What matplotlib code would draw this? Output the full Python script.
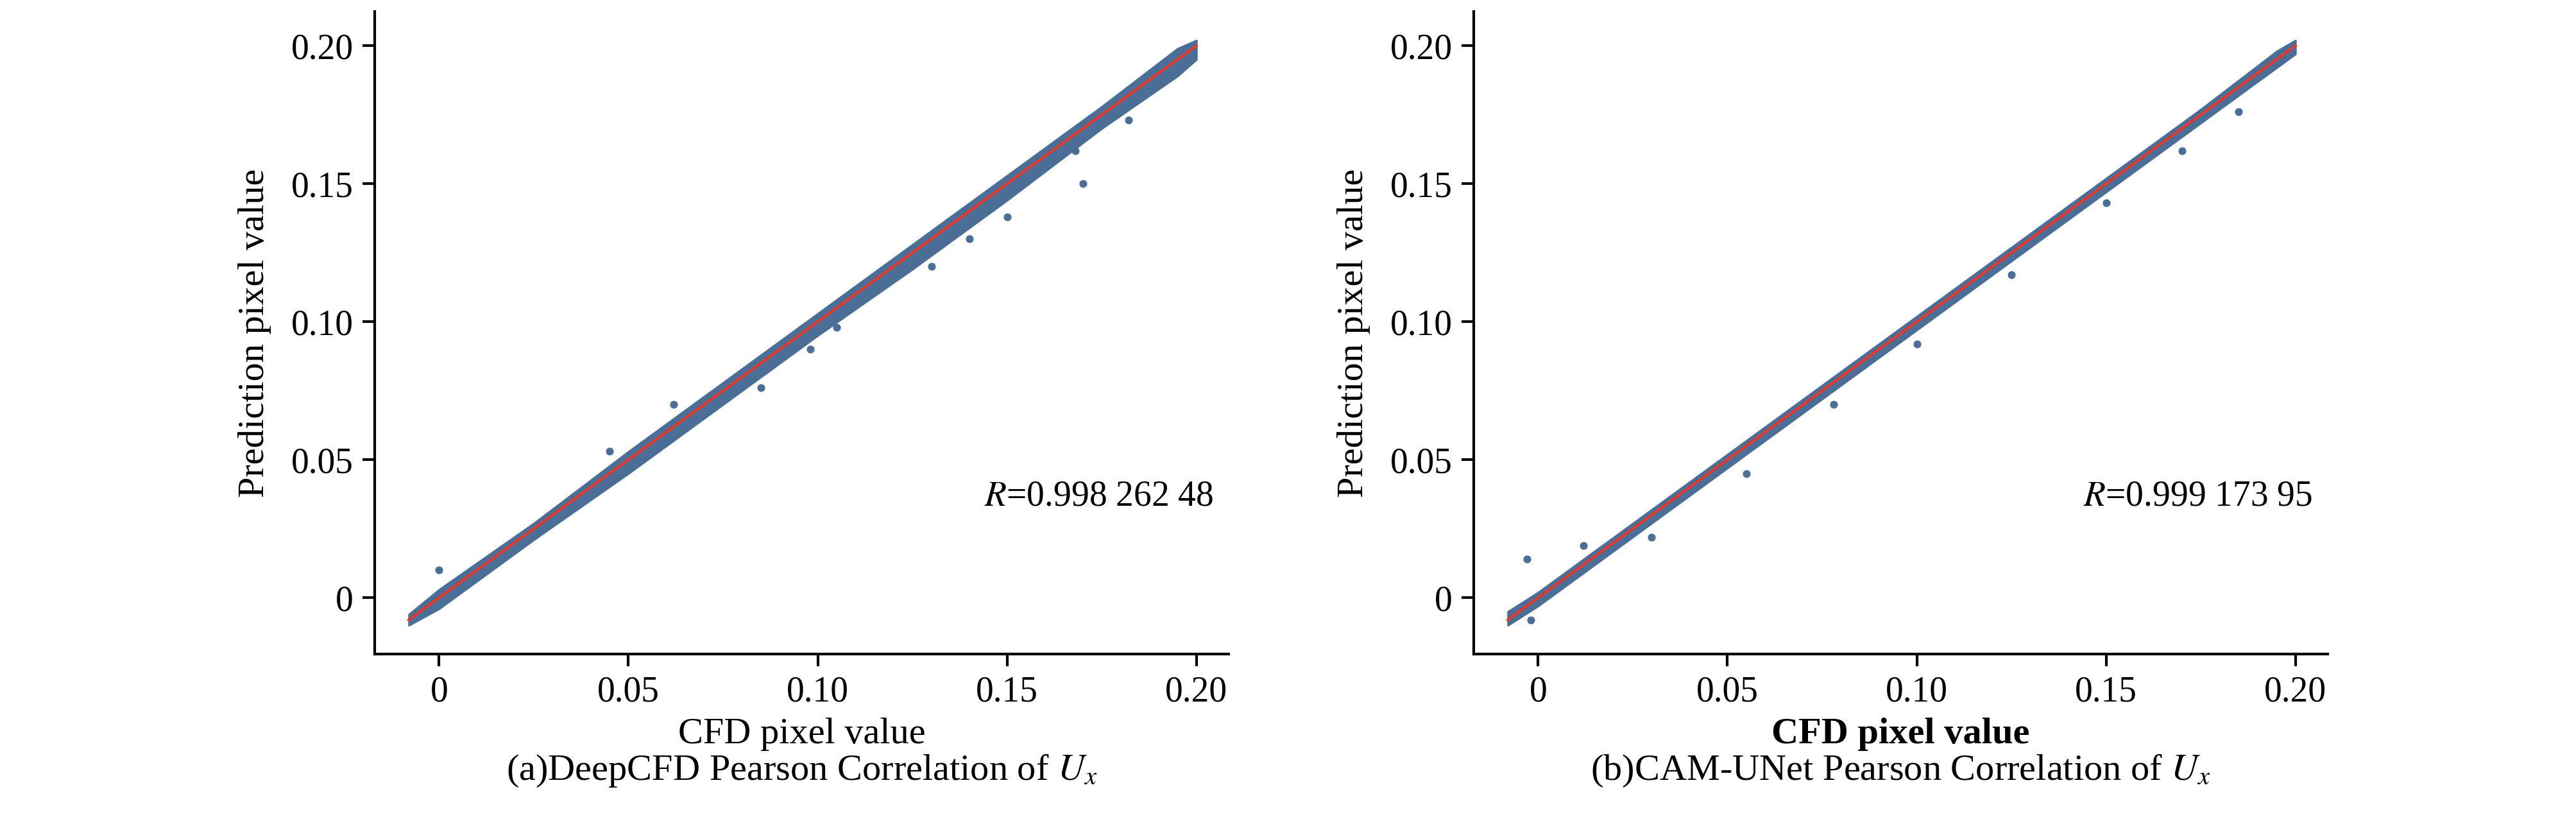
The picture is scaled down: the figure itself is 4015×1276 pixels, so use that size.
import numpy as np
import matplotlib.pyplot as plt

plt.rcParams['font.family'] = ['Liberation Serif', 'DejaVu Serif']
plt.rcParams['mathtext.fontset'] = 'stix'

# band of the scatter cloud (CFD value, upper/lower prediction edge)
band_x = [-0.008, 0.0, 0.025, 0.05, 0.075, 0.10, 0.125, 0.15, 0.175, 0.195, 0.200]
a_upper = [-0.006, 0.003, 0.027, 0.053, 0.078, 0.103, 0.128, 0.153, 0.178, 0.199, 0.202]
a_lower = [-0.010, -0.004, 0.021, 0.045, 0.070, 0.095, 0.119, 0.144, 0.170, 0.189, 0.195]
b_upper = [-0.005, 0.002, 0.027, 0.052, 0.077, 0.102, 0.127, 0.152, 0.177, 0.198, 0.202]
b_lower = [-0.010, -0.003, 0.022, 0.047, 0.072, 0.097, 0.122, 0.147, 0.172, 0.192, 0.197]

# scattered outliers
a_out_x = [0.0, 0.045, 0.062, 0.085, 0.098, 0.105, 0.118, 0.130, 0.140, 0.150, 0.168, 0.170, 0.182]
a_out_y = [0.010, 0.053, 0.070, 0.076, 0.090, 0.098, 0.115, 0.120, 0.130, 0.138, 0.162, 0.150, 0.173]
b_out_x = [-0.003, -0.002, 0.012, 0.030, 0.055, 0.078, 0.100, 0.125, 0.150, 0.170, 0.185]
b_out_y = [0.014, -0.008, 0.019, 0.022, 0.045, 0.070, 0.092, 0.117, 0.143, 0.162, 0.176]

fit_x = [-0.008, 0.200]
r_texts = ['0.998 262 48', '0.999 173 95']
captions = ['(a)DeepCFD Pearson Correlation of $U_x$', '(b)CAM-UNet Pearson Correlation of $U_x$']
ticks = [0, 0.05, 0.10, 0.15, 0.20]
tick_labels = ['0', '0.05', '0.10', '0.15', '0.20']

blue = '#4a6e96'
red = '#e5372a'

fig = plt.figure(figsize=(40.16, 12.76), dpi=100)
lefts = [584 / 4016, 2297 / 4016]
panels = [(a_upper, a_lower, a_out_x, a_out_y), (b_upper, b_lower, b_out_x, b_out_y)]

for i in range(2):
    ax = fig.add_axes([lefts[i], 0.2014, 1331 / 4016, 0.7846])
    up, lo, ox, oy = panels[i]
    ax.fill_between(band_x, lo, up, color=blue, lw=2, edgecolor=blue)
    ax.scatter(ox, oy, s=60, color=blue, zorder=2)
    ax.plot(fit_x, fit_x, color=red, lw=3, zorder=3)
    ax.set_xlim(-0.017, 0.2085)
    ax.set_ylim(-0.0204, 0.2124)
    ax.set_xticks(ticks)
    ax.set_xticklabels(tick_labels)
    ax.set_yticks(ticks)
    ax.set_yticklabels(tick_labels)
    for s in ['top', 'right']:
        ax.spines[s].set_visible(False)
    for s in ['left', 'bottom']:
        ax.spines[s].set_linewidth(3)
    ax.tick_params(direction='out', length=14, width=3, labelsize=40, pad=10)
    ax.set_xlabel('CFD pixel value', fontsize=42, labelpad=10,
                  fontweight='bold' if i == 1 else 'normal')
    ax.set_ylabel('Prediction pixel value', fontsize=42, labelpad=22)
    ax.text(0.2045, 0.0368, '$R$=' + r_texts[i], fontsize=40, ha='right', va='center')
    ax.text(0.5, -0.182, captions[i], fontsize=42, ha='center', va='center',
            transform=ax.transAxes)

fig.savefig('out.png', dpi=100)
